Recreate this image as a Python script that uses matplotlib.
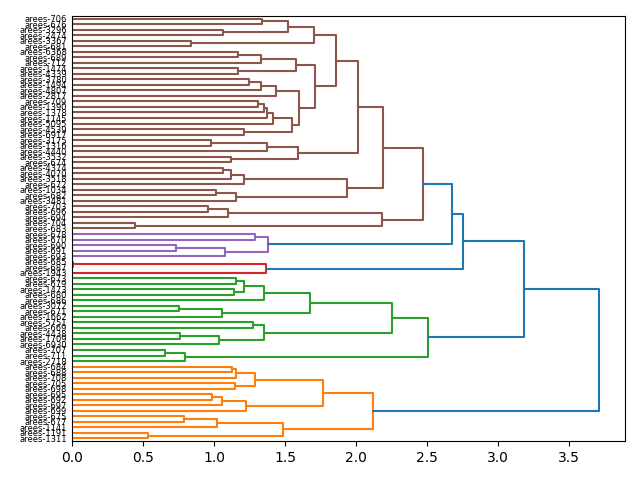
import matplotlib.pyplot as plt

# leaf labels, bottom to top (dendrogram order)
labels = [
    "arees-1311", "arees-1191", "arees-1141", "arees-677", "arees-675",
    "arees-699", "arees-697", "arees-692", "arees-695", "arees-698",
    "arees-705", "arees-708", "arees-688", "arees-684",
    "arees-2718", "arees-711", "arees-707", "arees-6930", "arees-1709",
    "arees-4438", "arees-669", "arees-5751", "arees-1662", "arees-671",
    "arees-3072", "arees-686", "arees-680", "arees-1473", "arees-679",
    "arees-673",
    "arees-1943", "arees-687", "arees-685",
    "arees-693", "arees-691", "arees-690", "arees-670", "arees-678",
    "arees-683", "arees-704", "arees-694", "arees-696", "arees-703",
    "arees-3481", "arees-682", "arees-1034", "arees-672", "arees-3518",
    "arees-4070", "arees-4374", "arees-674", "arees-3532", "arees-4440",
    "arees-1316", "arees-3175", "arees-6917", "arees-4539", "arees-5095",
    "arees-1145", "arees-1378", "arees-1390", "arees-709", "arees-2817",
    "arees-4807", "arees-1494", "arees-3780", "arees-4339", "arees-1474",
    "arees-712", "arees-689", "arees-6368", "arees-681", "arees-3367",
    "arees-2474", "arees-3296", "arees-676", "arees-706",
]

# merges: (name, child, child, height); ints are leaves, strings earlier merges
merges = [
    ("o1", 0, 1, 0.533), ("o2", 3, 4, 0.789), ("o3", 2, "o2", 1.019),
    ("o4", "o1", "o3", 1.484), ("o5", 7, 8, 0.984), ("o6", 6, "o5", 1.058),
    ("o7", 5, "o6", 1.225), ("o8", 9, 10, 1.148), ("o9", 12, 13, 1.123),
    ("o10", 11, "o9", 1.153), ("o11", "o8", "o10", 1.289),
    ("o12", "o7", "o11", 1.770), ("o13", "o4", "o12", 2.120),

    ("g1", 15, 16, 0.655), ("g2", 14, "g1", 0.796), ("g3", 18, 19, 0.761),
    ("g4", 17, "g3", 1.035), ("g5", 20, 21, 1.277), ("g6", "g4", "g5", 1.352),
    ("g7", 23, 24, 0.754), ("g8", 22, "g7", 1.058), ("g9", 26, 27, 1.141),
    ("g10", 28, 29, 1.155), ("g11", "g9", "g10", 1.213),
    ("g12", 25, "g11", 1.350), ("g13", "g8", "g12", 1.676),
    ("g14", "g6", "g13", 2.250), ("g15", "g2", "g14", 2.510),

    ("r1", 31, 32, 0.005), ("r2", 30, "r1", 1.366),

    ("p1", 34, 35, 0.730), ("p2", 33, "p1", 1.077), ("p3", 36, 37, 1.289),
    ("p4", "p2", "p3", 1.382),

    ("b1", 38, 39, 0.444), ("b2", 41, 42, 0.960), ("b3", 40, "b2", 1.097),
    ("b4", "b1", "b3", 2.180), ("b5", 44, 45, 1.014), ("b6", 43, "b5", 1.155),
    ("b7", 48, 49, 1.065), ("b8", 47, "b7", 1.120), ("b9", 46, "b8", 1.211),
    ("b10", "b6", "b9", 1.939),
    ("b11", 75, 76, 1.340), ("b12", 73, 74, 1.065),
    ("b13", "b12", "b11", 1.521), ("b14", 71, 72, 0.838),
    ("b15", "b14", "b13", 1.706), ("b16", 69, 70, 1.171),
    ("b17", 68, "b16", 1.329), ("b18", 66, 67, 1.170),
    ("b19", "b18", "b17", 1.580), ("b20", 64, 65, 1.245),
    ("b21", 63, "b20", 1.330), ("b22", 62, "b21", 1.437),
    ("b23", 60, 61, 1.312), ("b24", 59, "b23", 1.352),
    ("b25", 58, "b24", 1.376), ("b26", 57, "b25", 1.418),
    ("b27", 55, 56, 1.211), ("b28", "b27", "b26", 1.551),
    ("b29", "b28", "b22", 1.600), ("b30", "b29", "b19", 1.710),
    ("b31", "b30", "b15", 1.859),
    ("b32", 53, 54, 0.980), ("b33", 52, "b32", 1.370),
    ("b34", 50, 51, 1.120), ("b35", "b34", "b33", 1.590),
    ("b36", "b35", "b31", 2.016),
    ("b37", "b10", "b36", 2.190), ("b38", "b4", "b37", 2.470),

    ("x1", "b38", "p4", 2.676), ("x2", "r2", "x1", 2.754),
    ("x3", "g15", "x2", 3.180), ("x4", "o13", "x3", 3.710),
]

palette = ["C1", "C2", "C3", "C4", "C5", "C6", "C7", "C8", "C9"]

n = len(labels)
ypos = {i: 10 * i + 5 for i in range(n)}
hgt = {i: 0.0 for i in range(n)}
low = {i: i for i in range(n)}
parent = {}
for name, a, b, h in merges:
    ypos[name] = (ypos[a] + ypos[b]) / 2
    hgt[name] = h
    low[name] = min(low[a], low[b])
    parent[a] = parent[b] = name

top_h = max(h for _, _, _, h in merges)
thr = 0.7 * top_h


def cluster_root(node):
    while node in parent and hgt[parent[node]] < thr:
        node = parent[node]
    return node


roots = sorted({cluster_root(m[0]) for m in merges if m[3] < thr}, key=lambda r: low[r])
root_color = {r: palette[k % len(palette)] for k, r in enumerate(roots)}

fig, ax = plt.subplots(figsize=(6.4, 4.8), dpi=100)
fig.subplots_adjust(left=0.1125, right=0.977, top=0.967, bottom=0.081)
for name, a, b, h in merges:
    c = root_color[cluster_root(name)] if h < thr else "C0"
    ax.plot([hgt[a], h, h, hgt[b]], [ypos[a], ypos[a], ypos[b], ypos[b]], color=c, lw=1.5)

ax.set_xlim(0, top_h * 1.05)
ax.set_ylim(0, 10 * n)
ax.set_yticks([ypos[i] for i in range(n)])
ax.set_yticklabels(labels, fontsize=6)
ax.tick_params(axis="y", length=0)

plt.savefig("out.png")
